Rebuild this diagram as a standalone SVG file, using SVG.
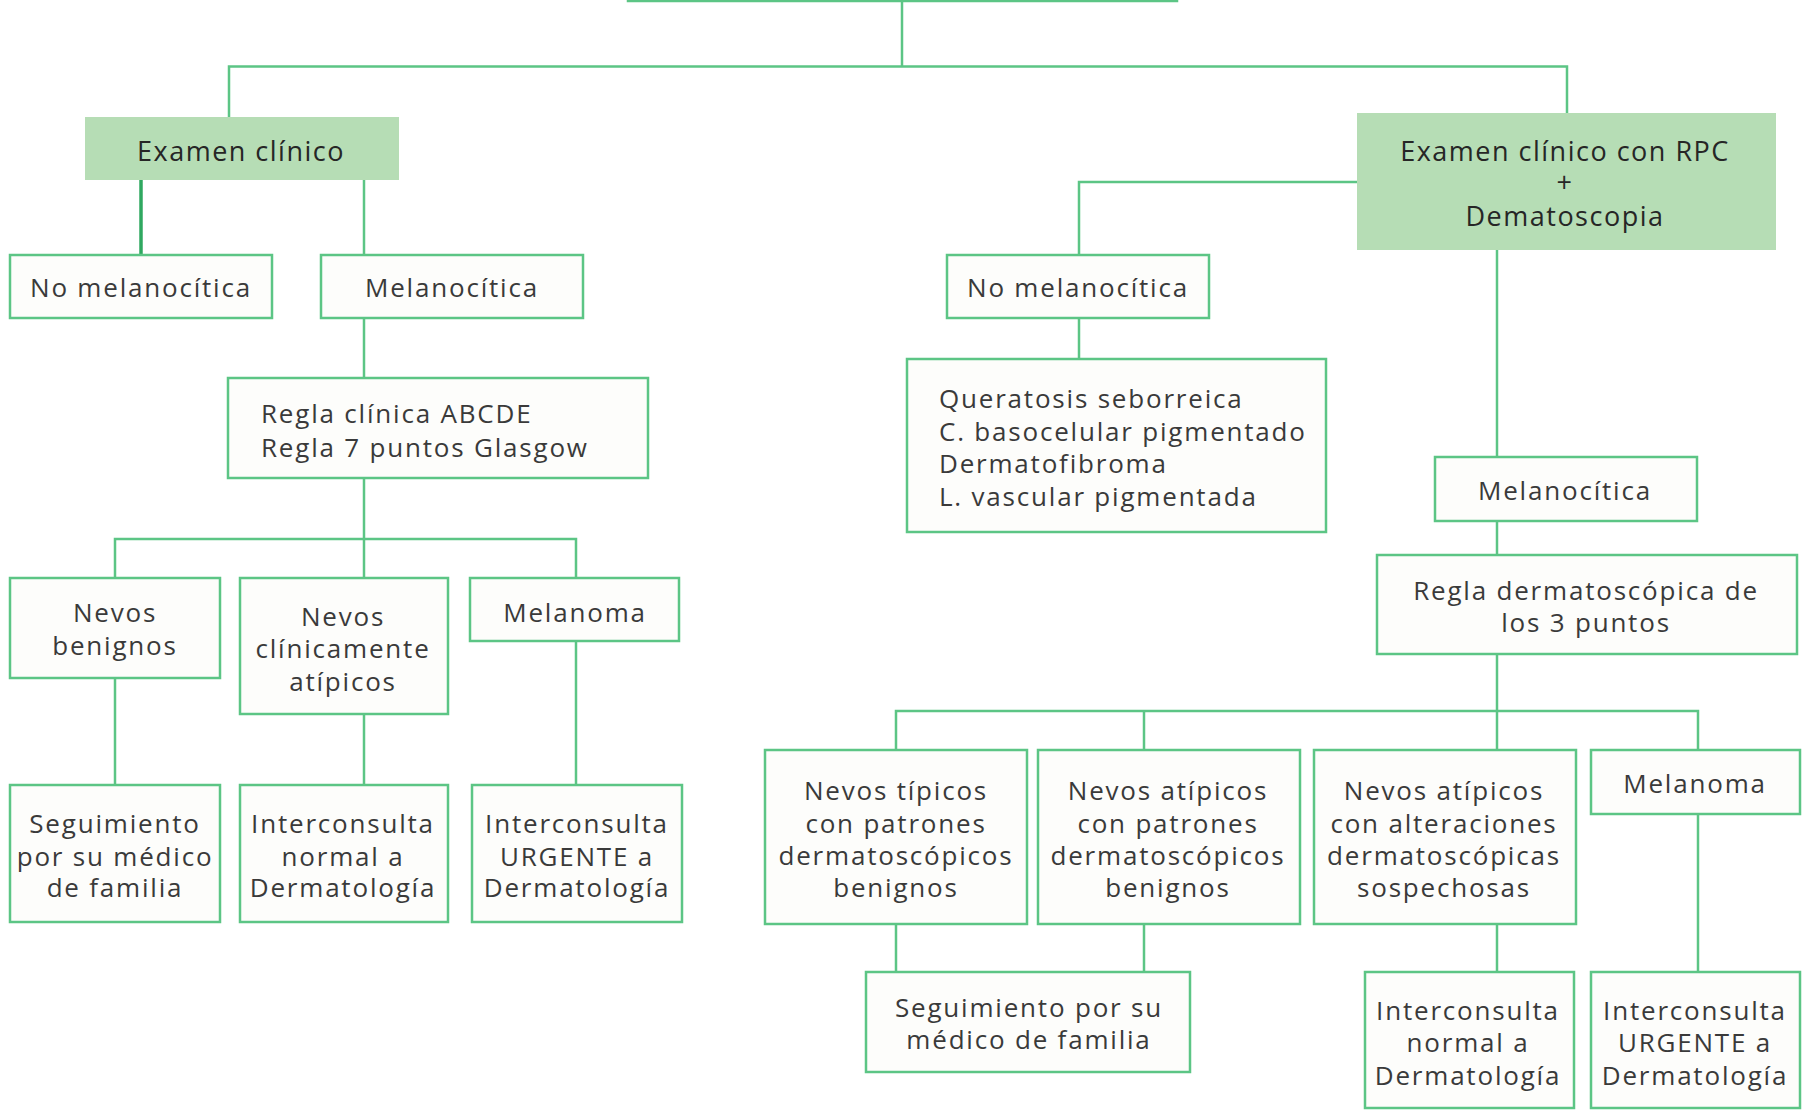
<svg xmlns="http://www.w3.org/2000/svg" width="1806" height="1110" viewBox="0 0 1806 1110">
<style>
.box{fill:#fdfdfb;stroke:#5cc585;stroke-width:2.5}
.hdr{fill:#b6ddb5;stroke:none}
.t{font-family:"Open Sans","Liberation Sans",sans-serif;font-size:26px;fill:#3a3a3a;letter-spacing:1.8px}
.c{text-anchor:middle}
.h{font-size:27px;fill:#262626;letter-spacing:1.5px}
.ln{fill:none;stroke:#5cc585;stroke-width:2.5}
.lnk{fill:none;stroke:#2fa860;stroke-width:3.5}
</style>
<rect width="1806" height="1110" fill="#ffffff"/>
<g id="connectors">
<path class="ln" d="M902 1 V66.5"/>
<path class="ln" d="M229 117 V66.5 H1567 V113"/>
<path class="lnk" d="M141 180 V255"/>
<path class="ln" d="M364 180 V255"/>
<path class="ln" d="M364 318 V378"/>
<path class="ln" d="M364 478 V578"/>
<path class="ln" d="M115 578 V539 H576 V578"/>
<path class="ln" d="M115 678 V785"/>
<path class="ln" d="M364 714 V785"/>
<path class="ln" d="M576 641 V785"/>
<path class="ln" d="M1357 182 H1079 V255"/>
<path class="ln" d="M1079 318 V359"/>
<path class="ln" d="M1497 250 V457"/>
<path class="ln" d="M1497 521 V555"/>
<path class="ln" d="M1497 654 V750"/>
<path class="ln" d="M896 750 V711 H1698 V750"/>
<path class="ln" d="M1144 711 V750"/>
<path class="ln" d="M896 924 V972"/>
<path class="ln" d="M1144 924 V972"/>
<path class="ln" d="M1497 924 V972"/>
<path class="ln" d="M1698 814 V972"/>
</g>
<g id="top"><rect class="box" x="628" y="-60" width="549" height="61"/></g>
<g id="examen-clinico"><rect class="hdr" x="85" y="117" width="314" height="63"/>
<text class="t c h" x="241" y="161">Examen clínico</text></g>
<g id="no-melanocitica-l"><rect class="box" x="10" y="255" width="262" height="63"/>
<text class="t c" x="141" y="297">No melanocítica</text></g>
<g id="melanocitica-l"><rect class="box" x="321" y="255" width="262" height="63"/>
<text class="t c" x="452" y="297">Melanocítica</text></g>
<g id="regla-abcde"><rect class="box" x="228" y="378" width="420" height="100"/>
<text class="t" x="261" y="423">Regla clínica ABCDE</text>
<text class="t" x="261" y="457">Regla 7 puntos Glasgow</text></g>
<g id="nevos-benignos"><rect class="box" x="10" y="578" width="210" height="100"/>
<text class="t c" x="115" y="622">Nevos</text>
<text class="t c" x="115" y="655">benignos</text></g>
<g id="nevos-clin-atipicos"><rect class="box" x="240" y="578" width="208" height="136"/>
<text class="t c" x="343" y="626">Nevos</text>
<text class="t c" x="343" y="658">clínicamente</text>
<text class="t c" x="343" y="691">atípicos</text></g>
<g id="melanoma-l"><rect class="box" x="470" y="578" width="209" height="63"/>
<text class="t c" x="575" y="622">Melanoma</text></g>
<g id="seguimiento-l"><rect class="box" x="10" y="785" width="210" height="137"/>
<text class="t c" x="115" y="833">Seguimiento</text>
<text class="t c" x="115" y="866">por su médico</text>
<text class="t c" x="115" y="897">de familia</text></g>
<g id="interconsulta-normal-l"><rect class="box" x="240" y="785" width="208" height="137"/>
<text class="t c" x="343" y="833">Interconsulta</text>
<text class="t c" x="343" y="866">normal a</text>
<text class="t c" x="343" y="897">Dermatología</text></g>
<g id="interconsulta-urgente-l"><rect class="box" x="472" y="785" width="210" height="137"/>
<text class="t c" x="577" y="833">Interconsulta</text>
<text class="t c" x="577" y="866">URGENTE a</text>
<text class="t c" x="577" y="897">Dermatología</text></g>
<g id="examen-rpc"><rect class="hdr" x="1357" y="113" width="419" height="137"/>
<text class="t c h" x="1565" y="161">Examen clínico con RPC</text>
<text class="t c h" x="1565" y="192">+</text>
<text class="t c h" x="1565" y="226">Dematoscopia</text></g>
<g id="no-melanocitica-r"><rect class="box" x="947" y="255" width="262" height="63"/>
<text class="t c" x="1078" y="297">No melanocítica</text></g>
<g id="queratosis"><rect class="box" x="907" y="359" width="419" height="173"/>
<text class="t" x="939" y="408">Queratosis seborreica</text>
<text class="t" x="939" y="441">C. basocelular pigmentado</text>
<text class="t" x="939" y="473">Dermatofibroma</text>
<text class="t" x="939" y="506">L. vascular pigmentada</text></g>
<g id="melanocitica-r"><rect class="box" x="1435" y="457" width="262" height="64"/>
<text class="t c" x="1565" y="500">Melanocítica</text></g>
<g id="regla-3-puntos"><rect class="box" x="1377" y="555" width="420" height="99"/>
<text class="t c" x="1586" y="600">Regla dermatoscópica de</text>
<text class="t c" x="1586" y="632">los 3 puntos</text></g>
<g id="nevos-tipicos"><rect class="box" x="765" y="750" width="262" height="174"/>
<text class="t c" x="896" y="800">Nevos típicos</text>
<text class="t c" x="896" y="833">con patrones</text>
<text class="t c" x="896" y="865">dermatoscópicos</text>
<text class="t c" x="896" y="897">benignos</text></g>
<g id="nevos-atipicos-benignos"><rect class="box" x="1038" y="750" width="262" height="174"/>
<text class="t c" x="1168" y="800">Nevos atípicos</text>
<text class="t c" x="1168" y="833">con patrones</text>
<text class="t c" x="1168" y="865">dermatoscópicos</text>
<text class="t c" x="1168" y="897">benignos</text></g>
<g id="nevos-atipicos-sospechosas"><rect class="box" x="1314" y="750" width="262" height="174"/>
<text class="t c" x="1444" y="800">Nevos atípicos</text>
<text class="t c" x="1444" y="833">con alteraciones</text>
<text class="t c" x="1444" y="865">dermatoscópicas</text>
<text class="t c" x="1444" y="897">sospechosas</text></g>
<g id="melanoma-r"><rect class="box" x="1591" y="750" width="209" height="64"/>
<text class="t c" x="1695" y="793">Melanoma</text></g>
<g id="seguimiento-r"><rect class="box" x="866" y="972" width="324" height="100"/>
<text class="t c" x="1029" y="1017">Seguimiento por su</text>
<text class="t c" x="1029" y="1049">médico de familia</text></g>
<g id="interconsulta-normal-r"><rect class="box" x="1365" y="972" width="209" height="136"/>
<text class="t c" x="1468" y="1020">Interconsulta</text>
<text class="t c" x="1468" y="1052">normal a</text>
<text class="t c" x="1468" y="1085">Dermatología</text></g>
<g id="interconsulta-urgente-r"><rect class="box" x="1591" y="972" width="209" height="136"/>
<text class="t c" x="1695" y="1020">Interconsulta</text>
<text class="t c" x="1695" y="1052">URGENTE a</text>
<text class="t c" x="1695" y="1085">Dermatología</text></g>
</svg>
